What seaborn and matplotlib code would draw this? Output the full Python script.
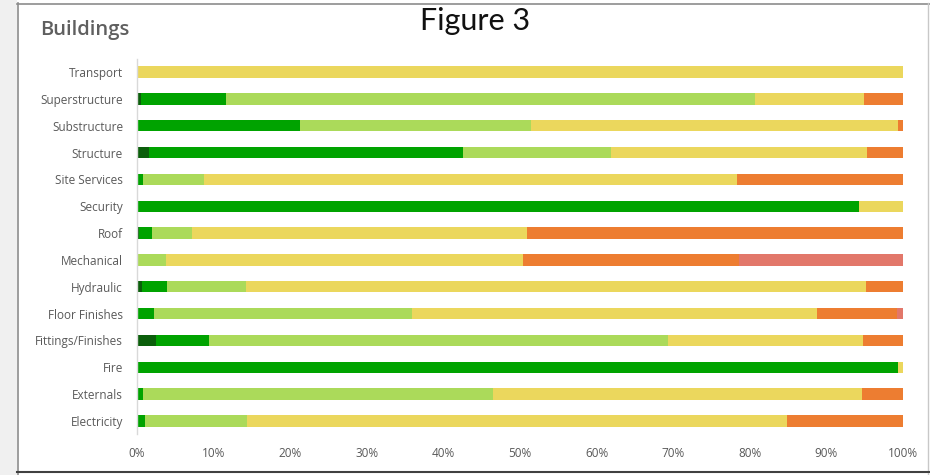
import matplotlib
matplotlib.use("Agg")
import matplotlib.pyplot as plt
import seaborn as sns
import pandas as pd
import numpy as np

# categories, top to bottom
kategoriler = ["Transport", "Superstructure", "Substructure", "Structure", "Site Services",
               "Security", "Roof", "Mechanical", "Hydraulic", "Floor Finishes",
               "Fittings/Finishes", "Fire", "Externals", "Electricity"]

# segment shares (%) per category, left to right
koyu_yesil = [0, 0.5, 0, 1.6, 0, 0, 0.2, 0, 0.6, 0, 2.5, 0, 0, 0]
yesil = [0, 11.1, 21.3, 41.0, 0.8, 94.2, 1.8, 0, 3.3, 2.2, 6.9, 99.3, 0.8, 1.1]
acik_yesil = [0, 69.1, 30.1, 19.3, 7.9, 0, 5.2, 3.8, 10.3, 33.7, 59.9, 0, 45.7, 13.3]
sari = [100, 14.2, 47.9, 33.4, 69.6, 5.8, 43.7, 46.6, 81.0, 52.9, 25.5, 0.7, 48.2, 70.5]
turuncu = [0, 5.1, 0.7, 4.7, 21.7, 0, 49.1, 28.2, 4.8, 10.4, 5.2, 0, 5.3, 15.1]
pembe = [0, 0, 0, 0, 0, 0, 0, 21.4, 0, 0.8, 0, 0, 0, 0]

seriler = [koyu_yesil, yesil, acik_yesil, sari, turuncu, pembe]
renkler = ["#0b5e0b", "#00a300", "#abda5a", "#ebd75d", "#ed7d31", "#e2776a"]

veri = pd.DataFrame({"Kategori": kategoriler})
toplam = np.zeros(len(kategoriler))
kumulatif = []
for s in seriler:
    toplam = toplam + np.array(s)
    kumulatif.append(toplam.copy())

fig = plt.figure(figsize=(9.3, 4.75), dpi=100)
fig.patch.set_facecolor("white")
ax = fig.add_axes([0.1473, 0.0855, 0.8237, 0.7911])

# stacked bars: draw cumulative totals from last to first
for kum, renk in reversed(list(zip(kumulatif, renkler))):
    veri["deger"] = np.minimum(kum, 100)
    sns.barplot(data=veri, x="deger", y="Kategori", order=kategoriler, color=renk,
                orient="h", width=0.42, saturation=1, ax=ax, linewidth=0)

ax.set_xlim(0, 100)
ax.set_ylim(13.5, -0.5)
ax.set_xlabel("")
ax.set_ylabel("")
ax.set_xticks(range(0, 101, 10))
ax.set_xticklabels([f"{v}%" for v in range(0, 101, 10)])
ax.tick_params(axis="both", length=0, labelsize=8.5, labelcolor="#595959")
ax.tick_params(axis="y", pad=10)
ax.tick_params(axis="x", pad=9)
for t in ax.get_xticklabels() + ax.get_yticklabels():
    t.set_fontfamily("Open Sans")
for k in ["top", "right", "bottom"]:
    ax.spines[k].set_visible(False)
ax.spines["left"].set_color("#d9d9d9")
ax.spines["left"].set_linewidth(1)

# frame around the card
fig.patches.append(plt.Rectangle((0, 0), 17 / 930, 1, transform=fig.transFigure,
                                 facecolor="#f0f0f0", edgecolor="none", zorder=0))
fig.add_artist(plt.Line2D([17.5 / 930, 17.5 / 930], [0, 1 - 3 / 475], color="#8c8c8c", lw=1.2))
fig.add_artist(plt.Line2D([17 / 930, 1], [1 - 3.5 / 475, 1 - 3.5 / 475], color="#8c8c8c", lw=1.2))
fig.add_artist(plt.Line2D([928 / 930, 928 / 930], [0, 1 - 3 / 475], color="#c8c8c8", lw=1))
fig.add_artist(plt.Line2D([17 / 930, 1], [3 / 475, 3 / 475], color="#404040", lw=1.5))

fig.text(40 / 930, 1 - 30 / 475, "Buildings", fontsize=14.5, color="#5f5f5f",
         fontfamily="Open Sans", fontweight="semibold", va="center", ha="left")
fig.text(475 / 930, 1 - 21 / 475, "Figure 3", fontsize=22, color="#111111",
         fontfamily="Lato", fontweight="normal", va="center", ha="center")

fig.savefig("out.png", dpi=100, facecolor="white")
